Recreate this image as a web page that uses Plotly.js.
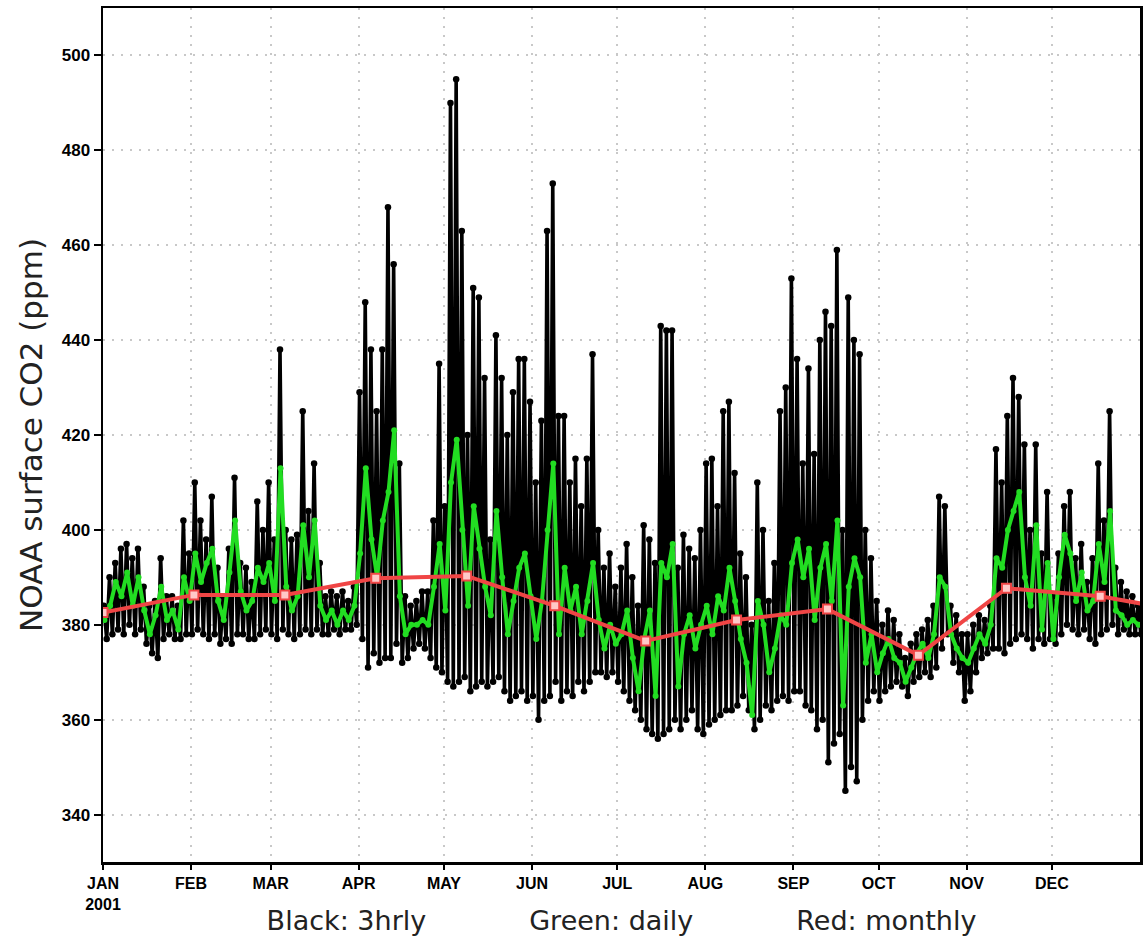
<!DOCTYPE html>
<html>
<head>
<meta charset="utf-8">
<script src="https://cdn.plot.ly/plotly-3.0.1.min.js"></script>
<style>html,body{margin:0;padding:0;background:#fff;}#chart{width:1143px;height:944px;}</style>
</head>
<body>
<div id="chart"></div>
<script>
// ---- Data (values in ppm) ----
// Daily (green) values, sampled every 2 days starting 2001-01-01
const greenDaily = [
  381,384,389,386,391,384,390,383,378,382,388,381,383,379,390,385,
  395,389,393,396,385,381,391,402,387,383,385,392,389,393,
  385,413,388,383,386,401,390,402,384,381,383,380,383,381,384,
  395,413,398,390,402,408,421,386,378,380,380,381,380,388,397,
  383,410,419,400,384,405,396,388,382,404,390,378,385,392,395,386,
  377,385,400,414,378,392,383,388,378,385,393,381,375,380,376,
  378,383,373,366,377,383,365,393,390,397,367,378,382,375,380,
  384,378,386,383,392,385,377,372,361,385,380,370,375,382,380,393,
  398,390,396,381,392,397,385,402,363,388,394,390,372,378,370,
  374,377,373,372,368,371,374,376,373,378,390,388,378,375,373,
  372,375,378,376,380,394,392,400,404,408,390,384,401,379,393,
  377,390,399,395,385,391,383,385,397,389,404,383,382,380,381,380
];
// 3-hourly (black) highs and lows, per 2-day block starting 2001-01-01
const black3hrlyHigh = [
  384,390,393,396,397,394,396,388,384,385,394,386,386,384,402,395,
  410,402,398,407,392,386,396,411,393,392,389,406,400,410,
  398,438,400,398,399,425,404,414,393,386,387,386,387,385,388,
  429,448,438,425,438,468,456,414,386,384,385,387,387,402,435,
  405,490,495,463,420,451,449,432,398,441,432,420,429,436,436,427,
  410,423,463,473,424,424,410,415,405,415,437,400,392,395,388,
  392,397,390,384,401,398,393,443,442,442,392,399,396,394,400,
  414,415,405,425,427,412,395,390,380,410,400,385,393,425,430,453,
  436,414,434,416,440,446,443,459,400,449,440,437,400,394,385,
  380,383,381,378,373,376,378,379,381,384,407,405,384,382,378,
  378,380,382,381,384,417,410,424,432,428,418,400,418,395,408,
  386,395,405,408,394,397,389,394,414,402,425,392,389,387,386,384
];
const black3hrlyLow = [
  377,378,379,378,380,378,379,376,374,373,377,378,377,377,378,378,
  379,378,377,378,376,377,376,378,378,377,377,378,379,378,
  377,379,378,377,378,379,378,379,378,378,379,378,379,379,380,
  377,371,374,372,373,373,376,372,373,375,376,375,373,371,370,
  368,367,368,369,366,367,368,367,368,369,366,364,365,366,364,365,
  360,364,365,368,364,366,365,368,366,368,370,370,369,370,368,
  366,364,362,360,358,357,356,357,358,360,358,360,362,358,357,
  359,360,361,362,362,363,365,362,358,360,363,362,364,365,364,366,
  366,363,362,358,360,351,355,357,345,350,347,360,364,366,364,
  366,367,368,367,365,368,369,370,369,371,375,378,372,370,364,
  366,370,373,374,375,375,374,376,377,378,377,375,377,376,377,
  376,378,380,379,378,379,377,376,378,379,380,378,379,378,378,378
];
// Monthly (red) means
const monthlyDates = ['2001-01-01','2001-02-02','2001-03-06','2001-04-07','2001-05-09','2001-06-09',
  '2001-07-11','2001-08-12','2001-09-13','2001-10-15','2001-11-15','2001-12-18','2002-01-19'];
const monthlyValues = [382.6,386.3,386.3,389.8,390.3,384.0,376.6,381.0,383.3,373.6,387.7,386.0,382.6];
// Axis labels
const monthTicks = ['2001-01-01','2001-02-01','2001-03-01','2001-04-01','2001-05-01','2001-06-01',
  '2001-07-01','2001-08-01','2001-09-01','2001-10-01','2001-11-01','2001-12-01'];
const monthLabels = ['JAN<br>2001','FEB','MAR','APR','MAY','JUN','JUL','AUG','SEP','OCT','NOV','DEC'];
const yTicks = [340,360,380,400,420,440,460,480,500];

// ---- Build traces ----
const t0 = Date.UTC(2001,0,1);
function dayToDate(d){ return new Date(t0 + d*86400000).toISOString().slice(0,19).replace('T',' '); }
const stepDays = 2;
const greenX = greenDaily.map((v,i)=>dayToDate(i*stepDays + 0.5));
const blackX = [], blackY = [];
black3hrlyHigh.forEach((h,i)=>{
  blackX.push(dayToDate(i*stepDays + 0.3)); blackY.push(h);
  blackX.push(dayToDate(i*stepDays + 1.3)); blackY.push(black3hrlyLow[i]);
});

const traces = [
  {x:blackX, y:blackY, type:'scatter', mode:'lines+markers', name:'3hrly',
   line:{color:'#000', width:3.6}, marker:{color:'#000', size:6.5}, hoverinfo:'skip'},
  {x:greenX, y:greenDaily, type:'scatter', mode:'lines+markers', name:'daily',
   line:{color:'#22dd22', width:4}, marker:{color:'#22dd22', size:6}},
  {x:monthlyDates, y:monthlyValues, type:'scatter', mode:'lines+markers', name:'monthly',
   line:{color:'#f04545', width:4},
   marker:{symbol:'square', size:9, color:'#ffc8c8', line:{color:'#f04545', width:2}}}
];

const yTickFont = {family:'Liberation Sans, Arial, sans-serif', size:17, color:'#000', weight:'bold'};
const xTickFont = {family:'Liberation Sans, Arial, sans-serif', size:16, color:'#000', weight:'bold'};
const sp = '&nbsp;'.repeat(12);
const layout = {
  width:1143, height:944,
  margin:{l:103, r:3, t:8, b:82},
  paper_bgcolor:'#fff', plot_bgcolor:'#fff',
  showlegend:false,
  xaxis:{
    type:'date', range:['2001-01-01','2002-01-01'],
    tickmode:'array', tickvals:monthTicks, ticktext:monthLabels,
    tickfont:xTickFont, ticks:'outside', ticklen:5, tickwidth:2, tickcolor:'#000',
    showgrid:true, gridcolor:'#c8c8c8', griddash:'2px,7px', gridwidth:2,
    showline:true, linecolor:'#000', linewidth:2.5, mirror:true, zeroline:false,
    title:{text:'Black: 3hrly' + sp + 'Green: daily' + sp + 'Red: monthly',
      font:{family:'DejaVu Sans, sans-serif', size:27, color:'#222'}, standoff:0}
  },
  yaxis:{
    range:[330,510], tickmode:'array', tickvals:yTicks,
    tickfont:yTickFont, ticks:'outside', ticklen:7, tickwidth:2, tickcolor:'#000',
    showgrid:true, gridcolor:'#c8c8c8', griddash:'2px,7px', gridwidth:2,
    showline:true, linecolor:'#000', linewidth:2.5, mirror:true, zeroline:false,
    title:{text:'NOAA surface CO2 (ppm)', font:{family:'DejaVu Sans, sans-serif', size:31, color:'#222'}, standoff:10}
  }
};
Plotly.newPlot('chart', traces, layout, {displayModeBar:false, staticPlot:true});
</script>
</body>
</html>
